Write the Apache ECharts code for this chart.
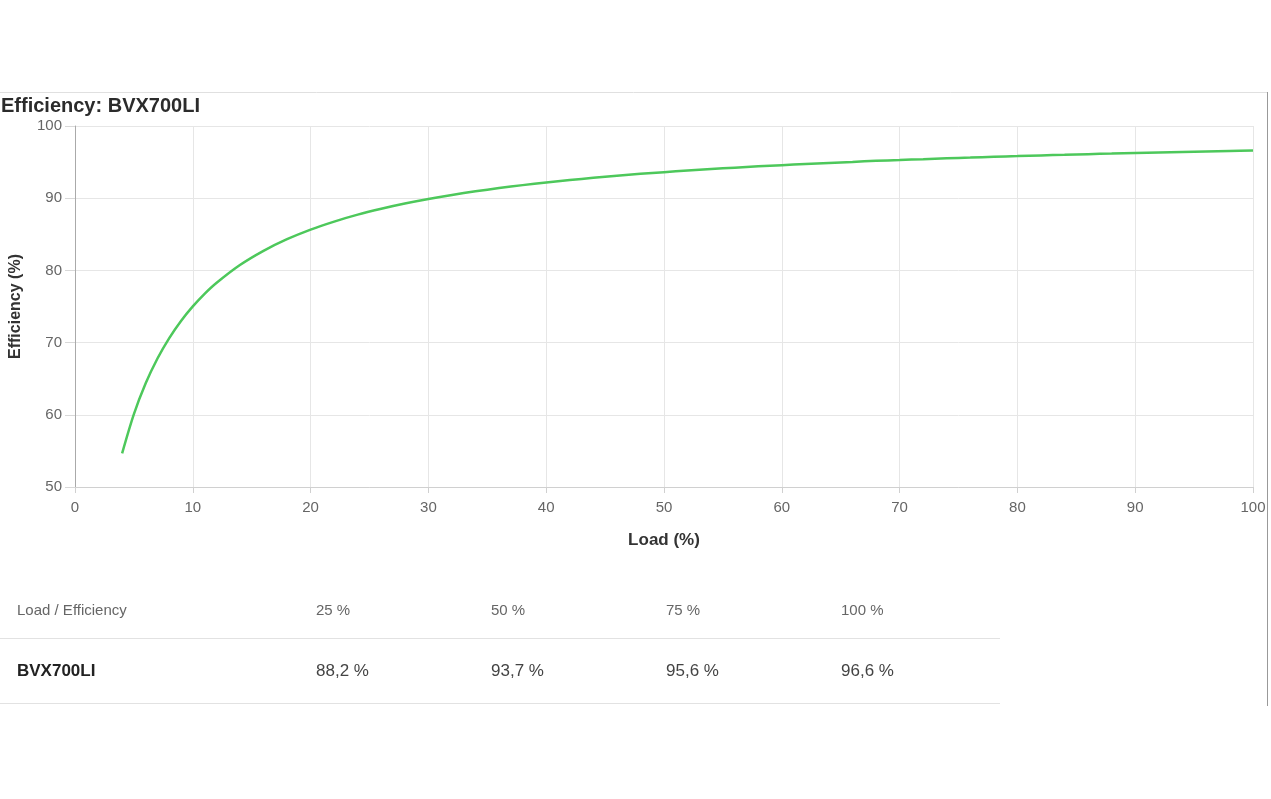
<!DOCTYPE html>
<html>
<head>
<meta charset="utf-8">
<script src="https://cdn.jsdelivr.net/npm/echarts@6/dist/echarts.min.js"></script>
<style>
html, body { margin: 0; padding: 0; background: #fff; }
#chart { position: absolute; left: 0; top: 0; width: 1271px; height: 799px; }
#table {
    position: absolute; left: 0; top: 580px; width: 1000px;
    border-collapse: collapse; font-family: "Liberation Sans", Arial, sans-serif;
}
#table td { padding: 0; }
#table tr.head td { height: 58px; font-size: 15px; color: #666; border-bottom: 1px solid #e2e2e2; }
#table tr.row td { height: 64px; font-size: 17px; color: #444; border-bottom: 1px solid #e2e2e2; }
#table tr.row td.name { font-weight: bold; color: #222; }
</style>
</head>
<body>
<div id="chart"></div>
<table id="table">
    <tr class="head" id="headRow"></tr>
    <tr class="row" id="valueRow"></tr>
</table>
<script>
// curve: load (%) vs efficiency (%)
var loadValues = [4, 5, 6, 7, 8, 9, 10, 11, 12, 14, 16, 18, 20, 22, 24, 26, 28, 30, 32, 34, 36, 38, 40, 42, 44, 46, 48, 50,
    52, 54, 56, 58, 60, 62, 64, 66, 68, 70, 72, 74, 76, 78, 80, 82, 84, 86, 88, 90, 92, 94, 96, 98, 100];
var effValues = [54.66, 60.09, 64.36, 67.80, 70.63, 73.00, 75.01, 76.75, 78.25, 80.74, 82.71, 84.32, 85.65, 86.76, 87.72, 88.54, 89.26, 89.89,
    90.45, 90.95, 91.40, 91.81, 92.18, 92.51, 92.82, 93.10, 93.37, 93.61, 93.83, 94.04, 94.23, 94.41, 94.58, 94.74, 94.89, 95.03,
    95.17, 95.29, 95.41, 95.53, 95.63, 95.74, 95.83, 95.93, 96.01, 96.10, 96.18, 96.26, 96.33, 96.40, 96.47, 96.54, 96.60];

// table below the chart
var modelName = 'BVX700LI';
var tableLoads = ['25 %', '50 %', '75 %', '100 %'];
var tableEffs = ['88,2 %', '93,7 %', '95,6 %', '96,6 %'];

var colLefts = [17, 316, 491, 666, 841];

function buildTable() {
    var head = document.getElementById('headRow');
    var row = document.getElementById('valueRow');
    var hCells = ['Load / Efficiency'].concat(tableLoads);
    var rCells = [modelName].concat(tableEffs);
    for (var i = 0; i < hCells.length; i++) {
        var w = (i < colLefts.length - 1 ? colLefts[i + 1] - colLefts[i] : 1000 - colLefts[i]);
        var th = document.createElement('td');
        th.textContent = hCells[i];
        th.style.width = w + 'px';
        if (i === 0) th.style.paddingLeft = '17px';
        head.appendChild(th);
        var td = document.createElement('td');
        td.textContent = rCells[i];
        if (i === 0) { td.className = 'name'; td.style.paddingLeft = '17px'; }
        row.appendChild(td);
    }
    head.children[0].style.width = (colLefts[1] - 17) + 'px';
}
buildTable();

var chart = echarts.init(document.getElementById('chart'));
var font = '"Liberation Sans", Arial, sans-serif';

chart.setOption({
    animation: false,
    title: {
        text: 'Efficiency: ' + modelName,
        left: 1,
        top: 96,
        padding: 0,
        textStyle: { fontFamily: font, fontSize: 20, fontWeight: 'bold', color: '#2b2b2b' }
    },
    grid: { left: 75, right: 18, top: 126, bottom: 312 },
    xAxis: {
        type: 'value',
        min: 0,
        max: 100,
        interval: 10,
        name: 'Load (%)',
        nameLocation: 'middle',
        nameGap: 45,
        nameTextStyle: { fontFamily: font, fontSize: 17, fontWeight: 'bold', color: '#333' },
        axisLine: { show: true, lineStyle: { color: '#d0d0d0' } },
        axisTick: { show: true, length: 6, lineStyle: { color: '#d0d0d0' } },
        axisLabel: { fontFamily: font, fontSize: 15, color: '#666', margin: 13 },
        splitLine: { show: true, lineStyle: { color: '#e6e6e6' } }
    },
    yAxis: {
        type: 'value',
        min: 50,
        max: 100,
        interval: 10,
        name: 'Efficiency (%)',
        nameLocation: 'middle',
        nameRotate: 90,
        nameGap: 51,
        nameTextStyle: { fontFamily: font, fontSize: 16, fontWeight: 'bold', color: '#333' },
        axisLine: { show: true, lineStyle: { color: '#aaa' } },
        axisTick: { show: true, length: 10, lineStyle: { color: '#d8d8d8' } },
        axisLabel: { fontFamily: font, fontSize: 15, color: '#666', margin: 13 },
        splitLine: { show: true, lineStyle: { color: '#e6e6e6' } }
    },
    series: [{
        type: 'line',
        smooth: 0.3,
        showSymbol: false,
        data: loadValues.map(function (x, i) { return [x, effValues[i]]; }),
        lineStyle: { color: '#4dc85b', width: 2.5 },
        itemStyle: { color: '#4dc85b' }
    }],
    graphic: [
        { type: 'line', shape: { x1: 0, y1: 92.5, x2: 1267, y2: 92.5 }, style: { stroke: '#e0e0e0', lineWidth: 1 } },
        { type: 'line', shape: { x1: 1267.5, y1: 92, x2: 1267.5, y2: 706 }, style: { stroke: '#999', lineWidth: 1 } }
    ]
});
</script>
</body>
</html>
